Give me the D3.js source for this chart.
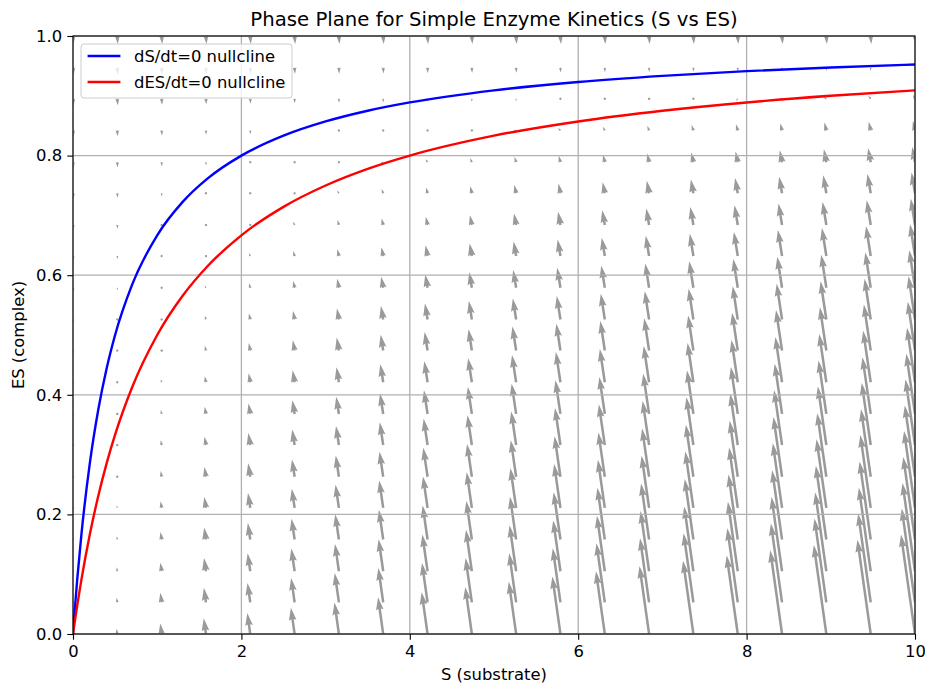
<!DOCTYPE html>
<html>
<head>
<meta charset="utf-8">
<script src="https://cdn.jsdelivr.net/npm/d3@7"></script>
<style>
  html, body { margin: 0; padding: 0; background: #fff; }
  svg { display: block; font-family: 'DejaVu Sans', sans-serif; }
</style>
</head>
<body>
<div id="chart"></div>
<script>
// quiver grid, 20 x 20
const sGrid = [0, 0.526, 1.053, 1.579, 2.105, 2.632, 3.158, 3.684, 4.211, 4.737,
  5.263, 5.789, 6.316, 6.842, 7.368, 7.895, 8.421, 8.947, 9.474, 10];
const esGrid = [0, 0.053, 0.105, 0.158, 0.211, 0.263, 0.316, 0.368, 0.421, 0.474,
  0.526, 0.579, 0.632, 0.684, 0.737, 0.789, 0.842, 0.895, 0.947, 1];

// rate constants (total enzyme = 1), read from where the nullclines reach ES = 0.5
const k1 = 1.0, kMinus1 = 0.5, k2 = 0.5;

// nullclines, points
const nullS = [0, 0.02, 0.05, 0.1, 0.2, 0.3, 0.4, 0.5, 0.7, 1, 1.3, 1.6, 2, 2.5, 3, 3.5, 4, 5, 6, 7, 8, 9, 10];
const dsNull = [0, 0.0385, 0.0909, 0.1667, 0.2857, 0.375, 0.4444, 0.5, 0.5833, 0.6667, 0.7222, 0.7619,
  0.8, 0.8333, 0.8571, 0.875, 0.8889, 0.9091, 0.9231, 0.9333, 0.9412, 0.9474, 0.9524];
const desNull = [0, 0.0196, 0.0476, 0.0909, 0.1667, 0.2308, 0.2857, 0.3333, 0.4118, 0.5, 0.5652, 0.6154,
  0.6667, 0.7143, 0.75, 0.7778, 0.8, 0.8333, 0.8571, 0.875, 0.8889, 0.9, 0.9091];

const xTicks = [0, 2, 4, 6, 8, 10];
const yTicks = [0, 0.2, 0.4, 0.6, 0.8, 1.0];

const width = 925, height = 687;
const margin = { top: 36, right: 10, bottom: 53, left: 73 };
const fs = 16.4;

const svg = d3.select('#chart')
  .append('svg')
  .attr('width', width)
  .attr('height', height);

const x = d3.scaleLinear().domain([0, 10]).range([margin.left, width - margin.right]);
const y = d3.scaleLinear().domain([0, 1]).range([height - margin.bottom, margin.top]);

svg.append('clipPath').attr('id', 'axclip')
  .append('rect')
  .attr('x', x(0)).attr('y', y(1))
  .attr('width', x(10) - x(0)).attr('height', y(0) - y(1));

// ---- quiver ----
const pxPerUnit = 7.1;
const shaft = 0.06 * (x(10) - x(0)) / 20;   // matplotlib default width

function rates(s, es) {
  const free = 1 - es;
  return {
    u: -k1 * s * free + kMinus1 * es,
    v: k1 * s * free - (kMinus1 + k2) * es
  };
}

// arrow outline in shaft-width units, same shape rules as matplotlib quiver
function arrowPoints(L) {
  if (L < 1) {
    return d3.range(7).map(k => [Math.cos(k * Math.PI / 3) * 0.5, Math.sin(k * Math.PI / 3) * 0.5]);
  }
  if (L < 5) {
    const f = L / 5;
    return [[0, 0.5], [0.5, 0.5], [0, 1.5], [5, 0], [0, -1.5], [0.5, -0.5], [0, -0.5]]
      .map(p => [p[0] * f, p[1] * f]);
  }
  return [[0, 0.5], [L - 4.5, 0.5], [L - 5, 1.5], [L, 0], [L - 5, -1.5], [L - 4.5, -0.5], [0, -0.5]];
}

const field = [];
esGrid.forEach(es => {
  sGrid.forEach(s => {
    const r = rates(s, es);
    field.push({ s: s, es: es, u: r.u, v: r.v });
  });
});

svg.append('g')
  .attr('clip-path', 'url(#axclip)')
  .selectAll('polygon')
  .data(field)
  .enter()
  .append('polygon')
  .attr('fill', '#9a9a9a')
  .attr('points', d => arrowPoints(Math.hypot(d.u, d.v) * pxPerUnit / shaft).map(p => p.join(',')).join(' '))
  .attr('transform', d => {
    const dx = x(d.u) - x(0);
    const dy = y(d.v) - y(0);
    const ang = Math.atan2(dy, dx) * 180 / Math.PI;
    return 'translate(' + x(d.s) + ',' + y(d.es) + ') rotate(' + ang + ') scale(' + shaft + ')';
  });

// ---- grid ----
const grid = svg.append('g').attr('stroke', '#b0b0b0').attr('stroke-width', 1.3);
grid.selectAll('.gx').data(xTicks).enter().append('line')
  .attr('x1', d => x(d)).attr('x2', d => x(d))
  .attr('y1', y(0)).attr('y2', y(1));
grid.selectAll('.gy').data(yTicks).enter().append('line')
  .attr('x1', x(0)).attr('x2', x(10))
  .attr('y1', d => y(d)).attr('y2', d => y(d));

// ---- nullclines ----
const line = d3.line()
  .x(d => x(d[0]))
  .y(d => y(d[1]))
  .curve(d3.curveMonotoneX);

const series = [
  { name: 'dS/dt=0 nullcline', color: '#0000ff', values: dsNull },
  { name: 'dES/dt=0 nullcline', color: '#ff0000', values: desNull }
];

svg.append('g')
  .attr('clip-path', 'url(#axclip)')
  .selectAll('path')
  .data(series)
  .enter()
  .append('path')
  .attr('fill', 'none')
  .attr('stroke', d => d.color)
  .attr('stroke-width', 2.4)
  .attr('d', d => line(nullS.map((s, i) => [s, d.values[i]])));

// ---- axes ----
const xAxis = svg.append('g')
  .attr('transform', 'translate(0,' + y(0) + ')')
  .call(d3.axisBottom(x).tickValues(xTicks).tickFormat(d3.format('d')).tickSize(5.7).tickPadding(5.2));
const yAxis = svg.append('g')
  .attr('transform', 'translate(' + x(0) + ',0)')
  .call(d3.axisLeft(y).tickValues(yTicks).tickFormat(d3.format('.1f')).tickSize(5.7).tickPadding(5.2));

[xAxis, yAxis].forEach(a => {
  a.select('.domain').remove();
  a.selectAll('line').attr('stroke', '#000').attr('stroke-width', 1.1);
  a.selectAll('text').attr('fill', '#000').style('font-size', fs + 'px')
    .style('font-family', "'DejaVu Sans', sans-serif");
});

svg.append('rect')
  .attr('x', x(0)).attr('y', y(1))
  .attr('width', x(10) - x(0)).attr('height', y(0) - y(1))
  .attr('fill', 'none').attr('stroke', '#000').attr('stroke-width', 1.1);

// ---- labels ----
svg.append('text')
  .attr('x', (x(0) + x(10)) / 2).attr('y', 26)
  .attr('text-anchor', 'middle')
  .style('font-size', '19.7px')
  .attr('fill', '#000')
  .text('Phase Plane for Simple Enzyme Kinetics (S vs ES)');

svg.append('text')
  .attr('x', (x(0) + x(10)) / 2).attr('y', 680)
  .attr('text-anchor', 'middle')
  .style('font-size', fs + 'px')
  .attr('fill', '#000')
  .text('S (substrate)');

svg.append('text')
  .attr('transform', 'translate(24,' + (y(0) + y(1)) / 2 + ') rotate(-90)')
  .attr('text-anchor', 'middle')
  .style('font-size', fs + 'px')
  .attr('fill', '#000')
  .text('ES (complex)');

// ---- legend ----
const legend = svg.append('g').attr('transform', 'translate(81,44)');
legend.append('rect')
  .attr('width', 211).attr('height', 54)
  .attr('rx', 3)
  .attr('fill', '#fff').attr('fill-opacity', 0.8)
  .attr('stroke', '#cccccc').attr('stroke-width', 1);

const item = legend.selectAll('.item')
  .data(series)
  .enter()
  .append('g')
  .attr('transform', (d, i) => 'translate(0,' + (12 + i * 26) + ')');
item.append('line')
  .attr('x1', 6.6).attr('x2', 39.4)
  .attr('stroke', d => d.color).attr('stroke-width', 2.4);
item.append('text')
  .attr('x', 53).attr('y', 5.8)
  .style('font-size', fs + 'px')
  .attr('fill', '#000')
  .text(d => d.name);
</script>
</body>
</html>
